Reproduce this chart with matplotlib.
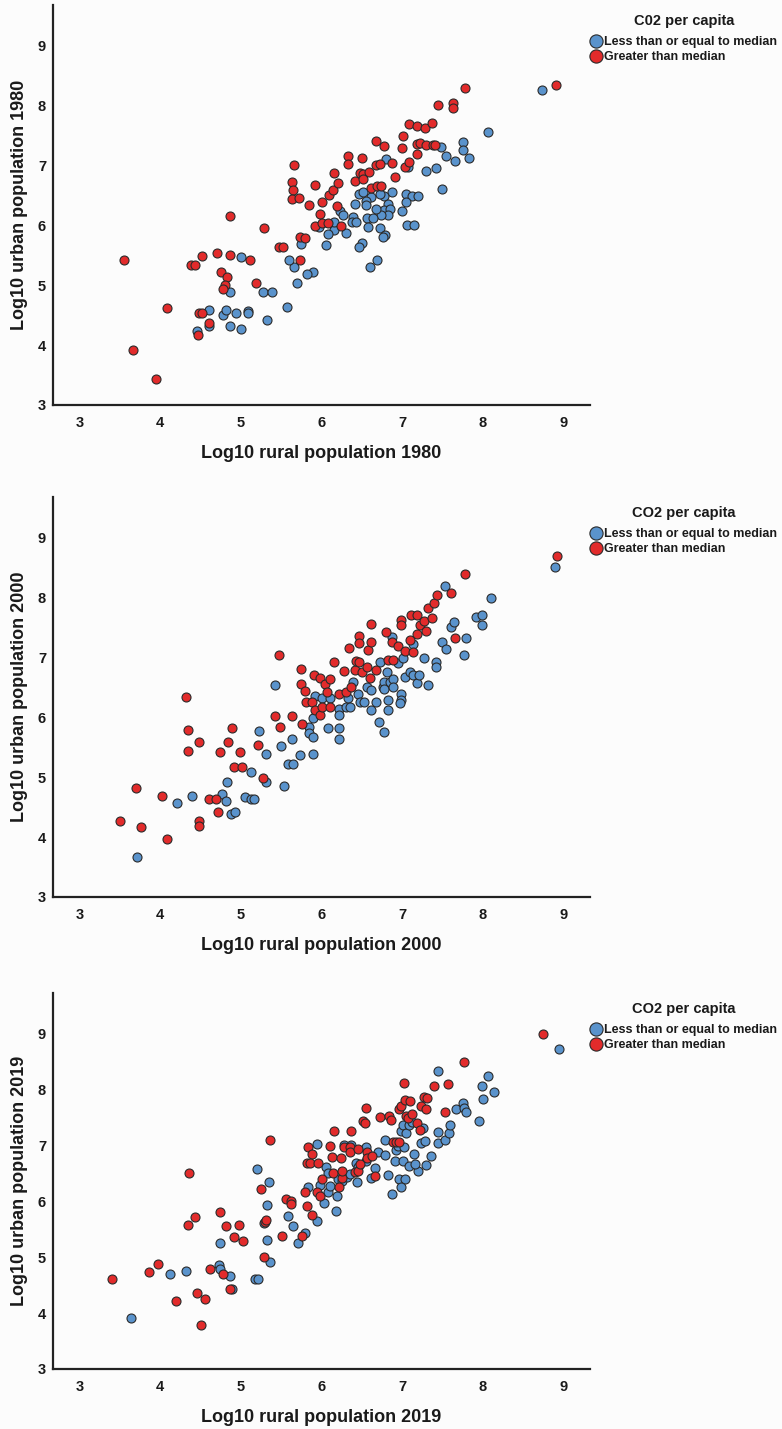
import matplotlib
matplotlib.use("Agg")
import matplotlib.pyplot as plt
from matplotlib.lines import Line2D

plt.rcParams['font.family'] = ['Liberation Sans', 'DejaVu Sans']
plt.rcParams['font.weight'] = 'bold'

# ---------------- Data: 1980 ----------------
r80_lo = [8.73, 8.06, 7.75, 7.76, 7.83, 7.65, 7.55, 7.48, 7.50, 7.42, 7.29, 7.07, 7.05, 7.12, 7.20,
          7.05, 7.00, 7.06, 7.15, 6.88, 6.80, 6.77, 6.83, 6.77, 6.85, 6.83, 6.74, 6.72, 6.62, 6.55,
          6.55, 6.47, 6.51, 6.42, 6.56, 6.64, 6.67, 6.58, 6.73, 6.79, 6.76, 6.69, 6.60, 6.50, 6.46,
          6.39, 6.38, 6.43, 6.31, 6.23, 6.27, 6.16, 6.08, 6.15, 6.06, 5.97, 5.89, 5.82, 5.74, 5.66,
          5.60, 5.70, 5.57, 5.33, 5.27, 5.38, 5.00, 5.09, 5.09, 4.94, 4.86, 4.78, 4.81, 4.61, 4.61,
          4.45, 4.86, 5.00]
u80_lo = [8.26, 7.56, 7.38, 7.26, 7.12, 7.07, 7.15, 7.30, 6.60, 6.96, 6.90, 6.97, 6.52, 6.48, 6.48,
          6.38, 6.24, 6.00, 6.00, 6.56, 7.11, 6.48, 6.35, 6.25, 6.26, 6.16, 6.16, 6.52, 6.47, 6.41,
          6.33, 6.52, 6.55, 6.35, 6.11, 6.11, 6.26, 5.96, 5.95, 5.84, 5.80, 5.42, 5.30, 5.70, 5.64,
          6.13, 6.05, 6.05, 5.87, 6.24, 6.16, 5.92, 5.85, 6.05, 5.67, 5.96, 5.21, 5.18, 5.68, 5.30,
          5.42, 5.03, 4.64, 4.42, 4.88, 4.89, 5.46, 4.56, 4.54, 4.54, 4.89, 4.50, 4.58, 4.59, 4.31,
          4.24, 4.32, 4.26]
r80_hi = [3.55, 3.66, 3.95, 4.08, 4.38, 4.43, 4.52, 4.70, 4.86, 4.86, 4.75, 4.83, 4.80, 4.78, 4.48,
          4.52, 4.47, 4.61, 5.11, 5.19, 5.29, 5.47, 5.52, 5.66, 5.64, 5.65, 5.64, 5.72, 5.73, 5.79,
          5.73, 5.84, 5.92, 6.00, 5.98, 5.92, 6.00, 6.08, 6.09, 6.14, 6.15, 6.21, 6.19, 6.24, 6.33,
          6.33, 6.42, 6.50, 6.48, 6.52, 6.59, 6.52, 6.62, 6.69, 6.74, 6.67, 6.72, 6.68, 6.78, 6.88,
          6.91, 7.00, 7.01, 7.09, 7.18, 7.28, 7.37, 7.04, 7.08, 7.18, 7.18, 7.22, 7.29, 7.38, 7.41,
          7.45, 7.63, 7.63, 7.78, 8.91]
u80_hi = [5.41, 3.91, 3.44, 4.62, 5.34, 5.34, 5.49, 5.53, 5.50, 6.15, 5.22, 5.14, 5.00, 4.94, 4.53,
          4.53, 4.16, 4.36, 5.41, 5.03, 5.95, 5.64, 5.64, 7.01, 6.72, 6.58, 6.44, 6.45, 5.80, 5.79,
          5.41, 6.33, 6.67, 6.39, 6.19, 5.98, 6.04, 6.04, 6.50, 6.59, 6.87, 6.70, 6.31, 5.99, 7.15,
          7.02, 6.74, 7.12, 6.87, 6.85, 6.88, 6.77, 6.62, 6.66, 6.66, 7.01, 7.02, 7.41, 7.32, 7.04,
          6.80, 7.28, 7.48, 7.69, 7.65, 7.62, 7.70, 6.97, 7.05, 7.19, 7.36, 7.37, 7.33, 7.34, 7.33,
          8.00, 8.04, 7.95, 8.28, 8.33]

# ---------------- Data: 2000 ----------------
r00_lo = [3.71, 4.21, 4.39, 4.77, 4.83, 4.82, 4.88, 4.93, 5.05, 5.13, 5.16, 5.13, 5.31, 5.31, 5.23,
          5.42, 5.50, 5.54, 5.59, 5.65, 5.64, 5.73, 5.90, 5.84, 5.85, 5.90, 5.89, 5.92, 6.00, 6.10,
          6.08, 6.22, 6.22, 6.22, 6.22, 6.30, 6.33, 6.35, 6.39, 6.45, 6.48, 6.53, 6.56, 6.62, 6.67,
          6.62, 6.71, 6.77, 6.72, 6.76, 6.77, 6.78, 6.81, 6.82, 6.83, 6.85, 6.89, 6.89, 6.87, 6.95,
          6.98, 6.98, 6.97, 7.01, 7.04, 7.10, 7.13, 7.14, 7.19, 7.21, 7.27, 7.32, 7.42, 7.42, 7.49,
          7.54, 7.53, 7.60, 7.64, 7.77, 7.79, 7.91, 7.99, 7.99, 8.10, 8.89]
u00_lo = [3.67, 4.57, 4.69, 4.72, 4.92, 4.60, 4.39, 4.42, 4.67, 4.64, 4.63, 5.08, 4.92, 5.39, 5.77,
          6.53, 5.52, 4.85, 5.22, 5.21, 5.63, 5.36, 5.39, 5.84, 5.74, 5.67, 5.99, 6.36, 6.31, 6.31,
          5.81, 5.82, 5.63, 6.14, 6.03, 6.17, 6.31, 6.17, 6.58, 6.38, 6.25, 6.25, 6.51, 6.45, 6.25,
          6.11, 5.92, 5.75, 6.92, 6.51, 6.58, 6.47, 6.75, 6.29, 6.11, 6.59, 6.64, 6.51, 7.33, 6.91,
          6.39, 6.28, 6.24, 6.98, 6.67, 6.75, 6.70, 7.22, 6.57, 6.70, 6.99, 6.54, 6.92, 6.83, 7.26,
          7.14, 8.19, 7.51, 7.59, 7.03, 7.32, 7.67, 7.70, 7.53, 7.99, 8.50]
r00_hi = [3.50, 3.70, 3.76, 4.02, 4.08, 4.32, 4.34, 4.34, 4.48, 4.48, 4.48, 4.60, 4.69, 4.72, 4.74,
          4.84, 4.89, 4.91, 5.02, 4.99, 5.21, 5.27, 5.42, 5.48, 5.47, 5.64, 5.74, 5.74, 5.80, 5.81,
          5.88, 5.76, 5.91, 5.98, 6.04, 6.10, 5.92, 5.98, 6.00, 6.10, 6.07, 6.16, 6.22, 6.28, 6.34,
          6.31, 6.37, 6.41, 6.43, 6.47, 6.47, 6.47, 6.50, 6.56, 6.58, 6.60, 6.61, 6.62, 6.68, 6.80,
          6.82, 6.89, 6.88, 6.95, 6.98, 6.98, 7.03, 7.11, 7.18, 7.10, 7.13, 7.18, 7.22, 7.27, 7.29,
          7.32, 7.37, 7.40, 7.43, 7.61, 7.65, 7.78, 8.92]
u00_hi = [4.27, 4.81, 4.16, 4.69, 3.96, 6.34, 5.78, 5.44, 5.59, 4.27, 4.18, 4.64, 4.64, 4.42, 5.42,
          5.59, 5.81, 5.16, 5.17, 5.41, 5.53, 4.99, 6.02, 5.84, 7.03, 6.02, 6.81, 6.56, 6.44, 6.25,
          6.25, 5.89, 6.70, 6.66, 6.56, 6.64, 6.11, 6.03, 6.17, 6.17, 6.42, 6.92, 6.39, 6.77, 7.16,
          6.42, 6.51, 6.79, 6.94, 6.92, 7.36, 7.24, 6.75, 6.84, 7.12, 6.66, 7.56, 7.26, 6.78, 7.42,
          6.95, 6.95, 7.25, 7.19, 7.62, 7.53, 7.11, 7.70, 7.70, 7.29, 7.09, 7.39, 7.53, 7.60, 7.43,
          7.82, 7.66, 7.91, 8.03, 8.07, 7.32, 8.39, 8.69]

# ---------------- Data: 2019 ----------------
r19_lo = [3.64, 4.12, 4.32, 4.74, 4.73, 4.74, 4.86, 4.89, 5.18, 5.21, 5.20, 5.35, 5.33, 5.33, 5.36,
          5.29, 5.59, 5.65, 5.71, 5.79, 5.83, 5.95, 5.95, 5.98, 6.03, 6.05, 6.08, 6.08, 6.11, 6.19,
          6.18, 6.20, 6.25, 6.28, 6.36, 6.32, 6.35, 6.44, 6.43, 6.45, 6.55, 6.55, 6.61, 6.66, 6.70,
          6.79, 6.79, 6.83, 6.88, 6.91, 6.93, 6.95, 6.96, 7.03, 6.99, 7.01, 6.98, 7.01, 7.02, 7.05,
          7.08, 7.08, 7.15, 7.12, 7.20, 7.23, 7.28, 7.29, 7.16, 7.26, 7.36, 7.45, 7.45, 7.45, 7.53,
          7.58, 7.59, 7.67, 7.76, 7.77, 7.79, 7.95, 7.99, 8.00, 8.07, 8.14, 8.95]
u19_lo = [3.92, 4.70, 4.75, 5.25, 4.86, 4.79, 4.66, 4.43, 4.60, 4.60, 6.57, 6.35, 5.93, 5.30, 4.92,
          5.61, 5.74, 5.55, 5.26, 5.43, 6.25, 7.03, 5.65, 6.29, 5.97, 6.61, 6.51, 6.16, 6.27, 6.10,
          5.83, 6.39, 6.36, 7.00, 7.00, 6.43, 6.49, 6.35, 6.69, 6.61, 6.97, 6.72, 6.42, 6.59, 6.87,
          7.09, 6.82, 6.46, 6.13, 6.72, 6.91, 6.99, 6.39, 6.39, 6.25, 6.72, 7.25, 7.36, 6.96, 7.21,
          7.36, 6.63, 6.84, 7.41, 6.54, 7.04, 7.07, 6.64, 6.66, 7.31, 6.81, 7.23, 7.04, 8.32, 7.09,
          7.21, 7.36, 7.64, 7.76, 7.67, 7.60, 7.43, 8.06, 7.83, 8.23, 7.95, 8.72]
r19_hi = [3.40, 3.86, 3.97, 4.20, 4.36, 4.35, 4.43, 4.45, 4.56, 4.51, 4.62, 4.74, 4.78, 4.81, 4.87,
          4.92, 4.98, 5.03, 5.25, 5.29, 5.30, 5.31, 5.36, 5.51, 5.56, 5.62, 5.62, 5.76, 5.80, 5.82,
          5.88, 5.83, 5.88, 5.82, 5.86, 5.96, 5.94, 5.98, 6.00, 6.10, 6.13, 6.14, 6.15, 6.22, 6.24,
          6.26, 6.26, 6.28, 6.35, 6.35, 6.37, 6.41, 6.45, 6.45, 6.48, 6.52, 6.54, 6.55, 6.57, 6.57,
          6.63, 6.66, 6.73, 6.84, 6.86, 6.89, 6.93, 6.96, 6.96, 6.98, 7.02, 7.03, 7.10, 7.05, 7.07,
          7.12, 7.18, 7.22, 7.27, 7.31, 7.24, 7.29, 7.39, 7.57, 7.53, 7.77, 8.75]
u19_hi = [4.60, 4.73, 4.88, 4.21, 6.50, 5.58, 5.72, 4.36, 4.26, 3.79, 4.79, 5.80, 4.70, 5.55, 4.43,
          5.36, 5.58, 5.29, 6.22, 5.00, 5.62, 5.67, 7.10, 5.37, 6.04, 6.01, 5.95, 5.37, 6.17, 5.92,
          5.76, 6.97, 6.84, 6.69, 6.69, 6.69, 6.16, 6.10, 6.39, 6.99, 6.79, 6.51, 7.25, 6.25, 6.77,
          6.42, 6.54, 6.97, 6.97, 6.87, 7.26, 6.52, 6.54, 6.94, 6.67, 7.44, 7.39, 7.67, 6.87, 6.77,
          6.81, 6.45, 7.50, 7.53, 7.45, 7.06, 7.06, 7.06, 7.64, 7.70, 8.11, 7.80, 7.79, 7.52, 7.48,
          7.55, 7.40, 7.28, 7.86, 7.84, 7.70, 7.65, 8.06, 8.09, 7.60, 8.48, 8.98]

years = ["1980", "2000", "2019"]
legend_titles = ["C02 per capita", "CO2 per capita", "CO2 per capita"]
series_names = ["Less than or equal to median", "Greater than median"]
xticks = [3, 4, 5, 6, 7, 8, 9]
yticks = [3, 4, 5, 6, 7, 8, 9]

panels = [
    (r80_lo, u80_lo, r80_hi, u80_hi),
    (r00_lo, u00_lo, r00_hi, u00_hi),
    (r19_lo, u19_lo, r19_hi, u19_hi),
]

BLUE = '#5a93cc'
RED = '#e22b2b'
EDGE = '#2a2a2a'
TXT = '#1a1a1a'
BG = '#fcfcfc'

W, H = 782, 1429
fig = plt.figure(figsize=(W / 100, H / 100), dpi=100, facecolor=BG)

# pixel boxes: (left, right, top, bottom, ymax)
boxes = [
    (53, 590, 5, 405, 9.67),
    (53, 590, 497, 897, 9.67),
    (53, 590, 993, 1369, 9.72),
]

for i, ((rl, ul, rh, uh), (l, r, t, b, ymax)) in enumerate(zip(panels, boxes)):
    ax = fig.add_axes([l / W, 1 - b / H, (r - l) / W, (b - t) / H])
    ax.set_facecolor(BG)
    ax.scatter(rl, ul, s=42, c=BLUE, edgecolors=EDGE, linewidths=0.8, zorder=3)
    ax.scatter(rh, uh, s=42, c=RED, edgecolors=EDGE, linewidths=0.8, zorder=3)
    ax.set_xlim(2.67, 9.33)
    ax.set_ylim(3, ymax)
    ax.set_xticks(xticks)
    ax.set_yticks(yticks)
    ax.tick_params(length=0, labelsize=10.5, colors=TXT)
    ax.tick_params(axis='x', pad=8)
    ax.tick_params(axis='y', pad=5)
    for lab in ax.get_xticklabels() + ax.get_yticklabels():
        lab.set_fontweight('bold')
    for s in ['top', 'right']:
        ax.spines[s].set_visible(False)
    for s in ['left', 'bottom']:
        ax.spines[s].set_linewidth(1.6)
        ax.spines[s].set_color('#222222')
    ax.set_xlabel(f"Log10 rural population {years[i]}", fontsize=13, fontweight='bold',
                  color=TXT, labelpad=11)
    ax.set_ylabel(f"Log10 urban population {years[i]}", fontsize=13, fontweight='bold',
                  color=TXT, labelpad=7)

    handles = [
        Line2D([0], [0], marker='o', linestyle='', markersize=9.5, markerfacecolor=BLUE,
               markeredgecolor=EDGE, markeredgewidth=0.8),
        Line2D([0], [0], marker='o', linestyle='', markersize=9.5, markerfacecolor=RED,
               markeredgecolor=EDGE, markeredgewidth=0.8),
    ]
    leg = ax.legend(handles, series_names, title=legend_titles[i], loc='upper left',
                    bbox_to_anchor=(590 / W, 1 - (t + 9) / H), bbox_transform=fig.transFigure,
                    frameon=False, fontsize=9, title_fontsize=10.5, handlelength=0.9,
                    handletextpad=0.25, labelspacing=0.22, borderpad=0, borderaxespad=0)
    leg._legend_box.sep = 6
    leg.get_title().set_fontweight('bold')
    for txt in leg.get_texts():
        txt.set_fontweight('bold')
        txt.set_color(TXT)
    leg.get_title().set_color(TXT)

fig.savefig("out.png", dpi=100, facecolor=BG)
